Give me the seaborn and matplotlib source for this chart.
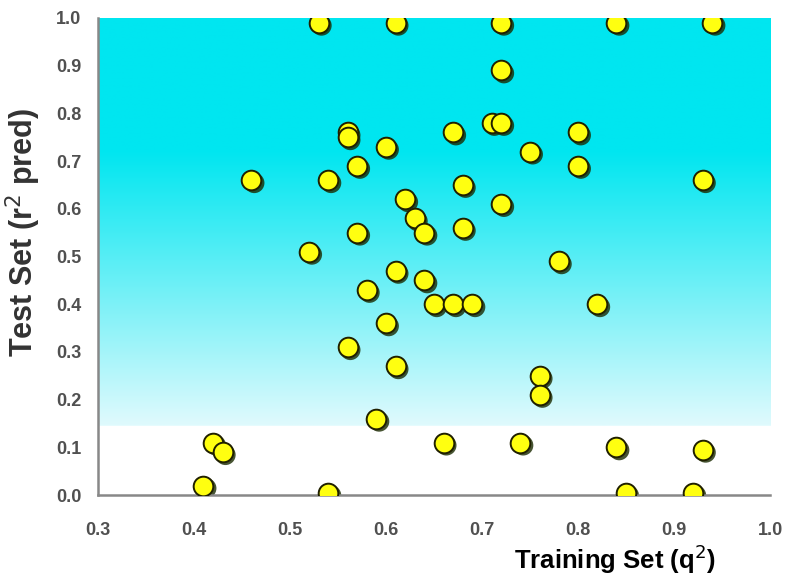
import matplotlib
matplotlib.use("Agg")
import matplotlib.pyplot as plt
import matplotlib.transforms as mtransforms
import numpy as np
import pandas as pd
import seaborn as sns

# training q2 vs test r2 pred
q2 = [0.53, 0.61, 0.72, 0.84, 0.94,
      0.72, 0.71, 0.72, 0.56, 0.56, 0.67, 0.80, 0.60, 0.75,
      0.57, 0.80, 0.46, 0.54, 0.93, 0.68, 0.62, 0.72, 0.63,
      0.68, 0.57, 0.64, 0.52, 0.78, 0.61, 0.64, 0.58,
      0.65, 0.67, 0.69, 0.82, 0.60, 0.56, 0.61, 0.76, 0.76,
      0.59, 0.42, 0.43, 0.66, 0.74, 0.84, 0.93,
      0.41, 0.54, 0.85, 0.92]
r2pred = [0.99, 0.99, 0.99, 0.99, 0.99,
          0.89, 0.78, 0.78, 0.76, 0.75, 0.76, 0.76, 0.73, 0.72,
          0.69, 0.69, 0.66, 0.66, 0.66, 0.65, 0.62, 0.61, 0.58,
          0.56, 0.55, 0.55, 0.51, 0.49, 0.47, 0.45, 0.43,
          0.40, 0.40, 0.40, 0.40, 0.36, 0.31, 0.27, 0.25, 0.21,
          0.16, 0.11, 0.09, 0.11, 0.11, 0.10, 0.095,
          0.02, 0.005, 0.005, 0.005]
ticks_x = [0.3, 0.4, 0.5, 0.6, 0.7, 0.8, 0.9, 1.0]
ticks_y = [0.0, 0.1, 0.2, 0.3, 0.4, 0.5, 0.6, 0.7, 0.8, 0.9, 1.0]

df = pd.DataFrame({"q2": q2, "r2": r2pred})

sns.set_style("white")
plt.rcParams["font.family"] = ["Liberation Sans", "DejaVu Sans"]

fig = plt.figure(figsize=(7.89, 5.79), dpi=100)
ax = fig.add_axes([0.124, 0.145, 0.852, 0.824])

# cyan -> white background
yy = np.linspace(0, 1, 400)
t = np.clip((yy - 0.15) / (0.72 - 0.15), 0, 1)
top = np.array([0, 230, 240]) / 255
low = np.array([222, 250, 253]) / 255
cols = low[None, :] * (1 - t[:, None]) + top[None, :] * t[:, None]
cols[yy < 0.145] = 1.0
img = np.repeat(cols[:, None, :], 2, axis=1)
ax.imshow(img, extent=[0.3, 1.0, 0, 1], origin="lower", aspect="auto", zorder=0)

# drop shadow then the yellow dots
sns.scatterplot(data=df, x="q2", y="r2", ax=ax, s=215, color="#1a2a00",
                edgecolor="none", alpha=0.8, zorder=2)
shadow = ax.collections[-1]
shadow.set_offset_transform(ax.transData + mtransforms.ScaledTranslation(
    2.0 / 72, -2.0 / 72, fig.dpi_scale_trans))
sns.scatterplot(data=df, x="q2", y="r2", ax=ax, s=200, color="#ffff10",
                edgecolor="#202000", linewidth=1.4, zorder=3)

ax.set_xlim(0.3, 1.0)
ax.set_ylim(0.0, 1.0)
ax.set_xticks(ticks_x)
ax.set_yticks(ticks_y)
ax.set_xticklabels([f"{v:.1f}" for v in ticks_x])
ax.set_yticklabels([f"{v:.1f}" for v in ticks_y])
ax.tick_params(axis="both", colors="#888888", labelcolor="#505050", labelsize=13,
               length=5, width=1.3)
ax.tick_params(axis="x", direction="inout", pad=17)
ax.tick_params(axis="y", direction="out", pad=7)
for lab in ax.get_xticklabels() + ax.get_yticklabels():
    lab.set_fontweight("bold")

for s in ["top", "right"]:
    ax.spines[s].set_visible(False)
for s in ["left", "bottom"]:
    ax.spines[s].set_color("#888888")
    ax.spines[s].set_linewidth(1.8)

ax.set_xlabel("Training Set (q$^2$)", fontsize=18.5, fontweight="bold",
              color="black")
ax.xaxis.set_label_coords(0.77, -0.1)
ax.set_ylabel("Test Set (r$^2$ pred)", fontsize=22, fontweight="bold",
              color="#333333")
ax.yaxis.set_label_coords(-0.082, 0.55)

fig.savefig("out.png", dpi=100)
